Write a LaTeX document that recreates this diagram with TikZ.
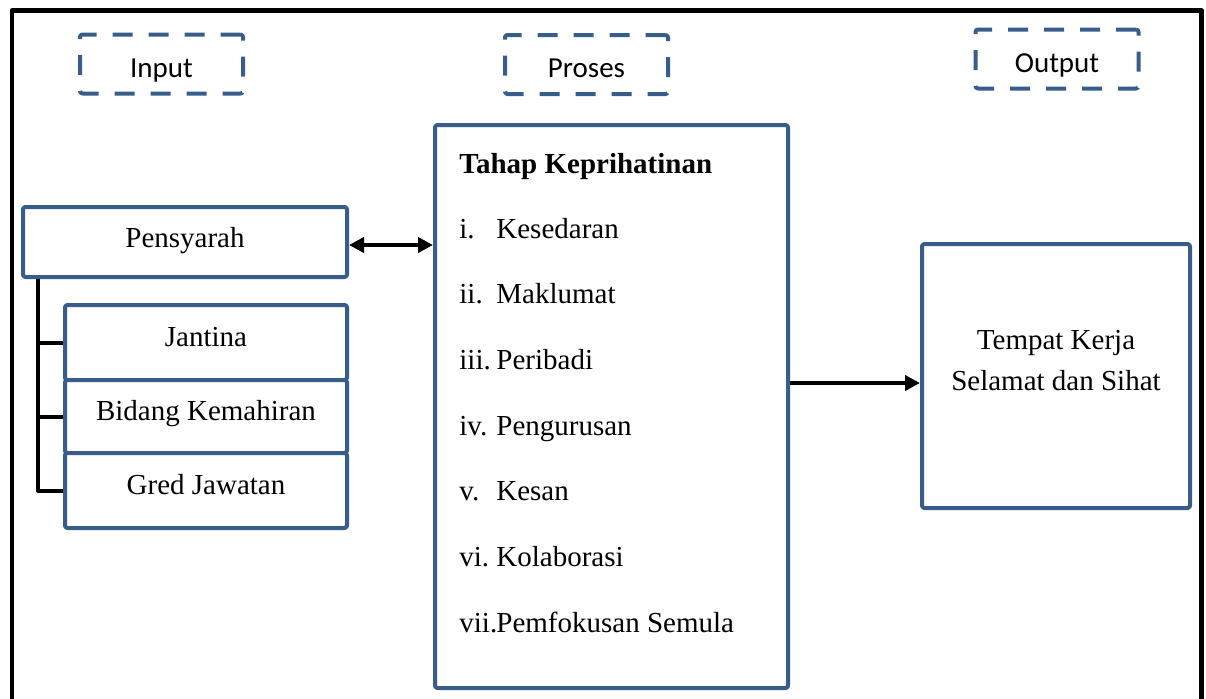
\documentclass[tikz,border=0pt]{standalone}
\usepackage{fontspec}
\setmainfont{Liberation Serif}
\newfontfamily\calibrifont{Carlito}
\usetikzlibrary{arrows.meta, positioning}
\definecolor{fwblue}{HTML}{385D8A}
\tikzset{
  every picture/.style={line join=round},
  box/.style={rectangle, draw=fwblue, line width=2pt, rounded corners=1.2pt, fill=white,
    font=\fontsize{14.5}{20.5}\selectfont, inner sep=0pt},
  sub/.style={box, minimum width=141pt, text height=9.5pt, text depth=5.5pt},
  stage/.style={box, fill=none, dash pattern=on 10pt off 8pt,
    font=\calibrifont\fontsize{14.5}{17}\selectfont,
    minimum width=81.5pt, minimum height=29.5pt, text height=13pt, text depth=0pt},
  item/.style={font=\fontsize{14.5}{20.5}\selectfont, inner sep=0pt, anchor=base west},
  link/.style={draw=black, line width=2pt, -{Triangle[length=7.5pt, width=7.5pt]}},
  both/.style={link, {Triangle[length=7.5pt, width=7.5pt]}-{Triangle[length=7.5pt, width=7.5pt]}},
  tree/.style={draw=black, line width=2pt},
  frame/.style={draw=black, line width=2.2pt},
}

\begin{document}
\begin{tikzpicture}[x=0.5pt, y=-0.5pt]
\useasboundingbox (0,0) rectangle (1206,698);

% ---- outer frame (open at the bottom)
\draw[frame] (12,720) |- (1201.5,10.5) -- (1201.5,720);

% ---- stage labels
\node[stage] (input) at (161.5,64) {Input};
\node[stage] (proses) at (586.5,64.5) {Proses};
\node[stage] (output) at (1057,59) {Output};

% ---- input side
\node[box, minimum width=162pt, minimum height=35pt, text height=9.5pt, text depth=4.5pt]
  (pensyarah) at (185,242) {Pensyarah};
\node[sub, minimum height=37.5pt] (jantina) at (206,342.5) {Jantina};
\node[sub, minimum height=36.5pt] (bidang) at (206,416.5) {Bidang Kemahiran};
\node[sub, minimum height=37.5pt] (gred) at (206,490.5) {Gred Jawatan};

\coordinate (trunk) at ([xshift=8.5pt]pensyarah.south west);
\draw[tree] (trunk) |- (gred.west);
\foreach \n in {jantina, bidang} {
  \draw[tree] (\n.west) -- (\n.west -| trunk);
}

% ---- process
\node[box, minimum width=176.5pt, minimum height=281.5pt] (tahap) at (611.5,406.5) {};
\node[item] (heading) at (459,173) {\bfseries Tahap Keprihatinan};
\foreach \i/\num/\txt in {1/i./Kesedaran, 2/ii./Maklumat, 3/iii./Peribadi,
    4/iv./Pengurusan, 5/v./Kesan, 6/vi./Kolaborasi, 7/vii./Pemfokusan Semula} {
  \node[item] (item\i) at (459, 172.3+65.7*\i) {\makebox[18.5pt][l]{\num}\txt};
}

% ---- output
\node[box, minimum width=134pt, minimum height=132pt, align=center, text depth=15.5pt]
  (selamat) at (1056,376) {Tempat Kerja\\Selamat dan Sihat};

% ---- connectors
\draw[both] ([yshift=-1.5pt]pensyarah.east) -- ([yshift=-1.5pt]pensyarah.east -| tahap.west);
\draw[link] ([yshift=-3.5pt]selamat.west -| tahap.east) -- ([yshift=-3.5pt]selamat.west);

\end{tikzpicture}
\end{document}
